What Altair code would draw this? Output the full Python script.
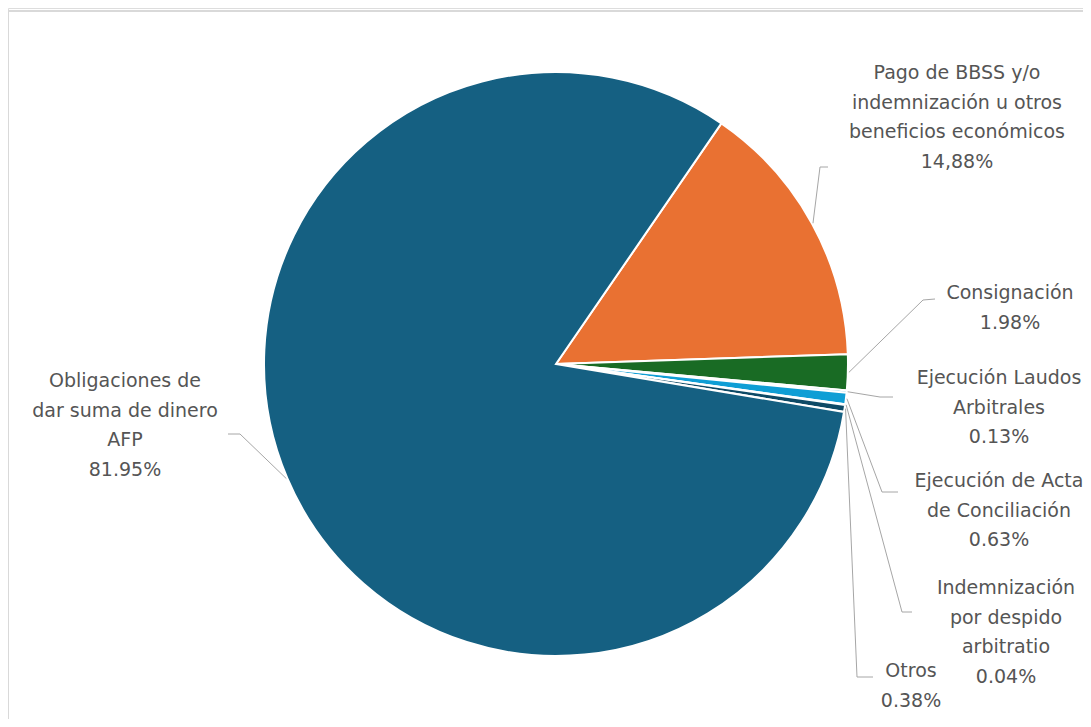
import math
import altair as alt
import pandas as pd

# ---------------- data ----------------
names = [
    "Pago de BBSS y/o indemnización u otros beneficios económicos",
    "Consignación",
    "Ejecución Laudos Arbitrales",
    "Ejecución de Acta de Conciliación",
    "Indemnización por despido arbitratio",
    "Otros",
    "Obligaciones de dar suma de dinero AFP",
]
label_lines = [
    ["Pago de BBSS y/o", "indemnización u otros", "beneficios económicos"],
    ["Consignación"],
    ["Ejecución Laudos", "Arbitrales"],
    ["Ejecución de Acta", "de Conciliación"],
    ["Indemnización", "por despido", "arbitratio"],
    ["Otros"],
    ["Obligaciones de", "dar suma de dinero", "AFP"],
]
values = [14.88, 1.98, 0.13, 0.63, 0.04, 0.38, 81.95]
value_text = ["14,88%", "1.98%", "0.13%", "0.63%", "0.04%", "0.38%", "81.95%"]

# ---------------- style / layout ----------------
colors = ["#E97132", "#196B24", "#0F9ED5", "#0F9ED5", "#A02B93", "#0E4A66", "#156082"]
W, H = 1075, 711
OFF = 8                      # page margin; x/y scales use page pixels
CX, CY, R = 556, 364, 292    # pie centre and radius (page pixels)
START_DEG = 34.5             # angle of first slice edge, clockwise from 12 o'clock
TEXT_COLOR = "#555555"
LINE_COLOR = "#A6A6A6"
FONT = "DejaVu Sans"
FS = 19
LH = 29.5

# centre x and first-line y of each label block
label_pos = [(957, 73), (1010, 293), (999, 378), (999, 481), (1006, 588), (911, 671), (125, 381)]
leader_pts = [
    [(820, 167), (828, 167)],
    [(923, 300), (935, 299)],
    [(880, 397), (893, 397)],
    [(882, 492), (898, 492)],
    [(902, 612), (912, 612)],
    [(857, 677), (873, 677)],
    [(240, 434), (228, 434)],
]

t0 = math.radians(START_DEG)
xs = alt.Scale(domain=[OFF, OFF + W], nice=False, zero=False)
ys = alt.Scale(domain=[OFF, OFF + H], nice=False, zero=False, reverse=True)

pie_df = pd.DataFrame({"name": names, "value": values, "idx": list(range(len(names)))})

# label table
lab_rows = []
for i, n in enumerate(names):
    lab_rows.append({"name": n, "text": "\n".join(label_lines[i] + [value_text[i]]),
                     "x": label_pos[i][0], "y": label_pos[i][1]})
lab_df = pd.DataFrame(lab_rows)

# leader lines: start at slice mid-angle on the pie edge
total = sum(values)
line_rows = []
cum = 0.0
for i, n in enumerate(names):
    mid = START_DEG + (cum + values[i] / 2) / total * 360.0
    cum += values[i]
    a = math.radians(mid)
    sx = CX + (R + 1) * math.sin(a)
    sy = CY - (R + 1) * math.cos(a)
    pts = [(sx, sy)] + leader_pts[i]
    for j, (px, py) in enumerate(pts):
        line_rows.append({"name": n, "seq": j, "x": px, "y": py})
line_df = pd.DataFrame(line_rows)

pie = alt.Chart(pie_df).mark_arc(outerRadius=R, stroke="white", strokeWidth=2).encode(
    theta=alt.Theta("value:Q", stack=True, scale=alt.Scale(range=[t0, t0 + 2 * math.pi])),
    order=alt.Order("idx:Q"),
    color=alt.Color("name:N", scale=alt.Scale(domain=names, range=colors), legend=None),
    x=alt.value(CX - OFF),
    y=alt.value(CY - OFF),
)

leaders = alt.Chart(line_df).mark_line(color=LINE_COLOR, strokeWidth=1).encode(
    x=alt.X("x:Q", scale=xs, axis=None),
    y=alt.Y("y:Q", scale=ys, axis=None),
    detail="name:N",
    order="seq:Q",
)

labels = alt.Chart(lab_df).mark_text(
    font=FONT, fontSize=FS, color=TEXT_COLOR, lineBreak="\n", lineHeight=LH,
    align="center", baseline="middle",
).encode(
    x=alt.X("x:Q", scale=xs, axis=None),
    y=alt.Y("y:Q", scale=ys, axis=None),
    text="text:N",
)

frame_df = pd.DataFrame({"a": [0]})
top_border = alt.Chart(frame_df).mark_rule(color="#D9D9D9", strokeWidth=2).encode(
    x=alt.value(0), x2=alt.value(W), y=alt.value(3)
)
left_border = alt.Chart(frame_df).mark_rule(color="#D9D9D9", strokeWidth=2).encode(
    x=alt.value(0), y=alt.value(3), y2=alt.value(H)
)

chart = alt.layer(top_border, left_border, pie, leaders, labels).properties(
    width=W, height=H, padding=0,
    autosize=alt.AutoSizeParams(type="none"),
).configure_view(stroke=None).configure(background="white")

chart.save("out.html", embed_options={"renderer": "svg", "actions": False})
